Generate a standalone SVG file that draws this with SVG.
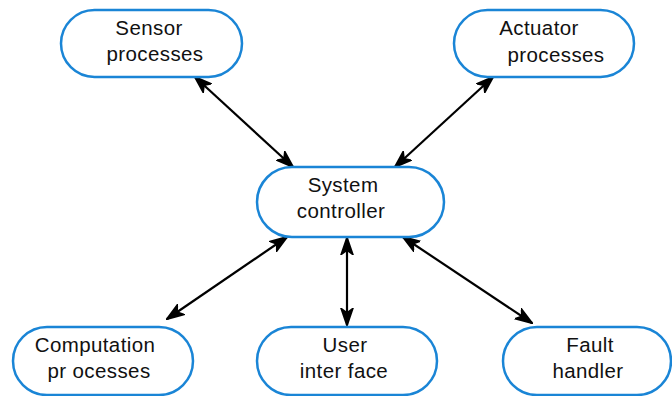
<svg xmlns="http://www.w3.org/2000/svg" width="672" height="396" viewBox="0 0 672 396">
  <style>
    .node rect { fill: #ffffff; stroke: #1a85d6; stroke-width: 2.5; }
    .node text { font-family: "Liberation Sans", Arial, sans-serif; font-size: 20.5px; letter-spacing: 0.4px; fill: #111111; text-anchor: middle; }
    .link { stroke: #000000; stroke-width: 2.2; fill: none; marker-start: url(#head); marker-end: url(#head); }
  </style>
  <defs>
    <!-- bold double-ended arrowhead used on every connector -->
    <marker id="head" viewBox="0 0 18 14" refX="17" refY="7" markerWidth="18" markerHeight="14" markerUnits="userSpaceOnUse" orient="auto-start-reverse">
      <path d="M1,1.5 L17,7 L1,12.5 L5,7 Z" fill="#000000" stroke="#000000" stroke-width="2" stroke-linejoin="miter"/>
    </marker>
  </defs>

  <rect width="672" height="396" fill="#ffffff"/>

  <g id="connectors">
    <line class="link" x1="195" y1="77" x2="293" y2="167"/>
    <line class="link" x1="493" y1="77" x2="395" y2="167"/>
    <line class="link" x1="287" y1="237" x2="167" y2="319"/>
    <line class="link" x1="347" y1="238" x2="347" y2="325"/>
    <line class="link" x1="403" y1="237" x2="532" y2="323"/>
  </g>

  <g id="sensor" class="node">
    <rect x="61" y="10" width="181" height="67" rx="33.5"/>
    <text x="149" y="35">Sensor</text>
    <text x="155" y="61">processes</text>
  </g>

  <g id="actuator" class="node">
    <rect x="454" y="10" width="180" height="67" rx="33.5"/>
    <text x="539" y="35">Actuator</text>
    <text x="556" y="62">processes</text>
  </g>

  <g id="controller" class="node">
    <rect x="257" y="167" width="187" height="70" rx="35"/>
    <text x="343" y="192">System</text>
    <text x="341" y="218">controller</text>
  </g>

  <g id="computation" class="node">
    <rect x="13" y="327" width="180" height="68" rx="34"/>
    <text x="95" y="352">Computation</text>
    <text x="99" y="378">pr ocesses</text>
  </g>

  <g id="user-interface" class="node">
    <rect x="257" y="327" width="180" height="68" rx="34"/>
    <text x="345" y="352">User</text>
    <text x="344" y="378">inter face</text>
  </g>

  <g id="fault-handler" class="node">
    <rect x="503" y="327" width="168" height="68" rx="34"/>
    <text x="590" y="352">Fault</text>
    <text x="588" y="378">handler</text>
  </g>
</svg>
